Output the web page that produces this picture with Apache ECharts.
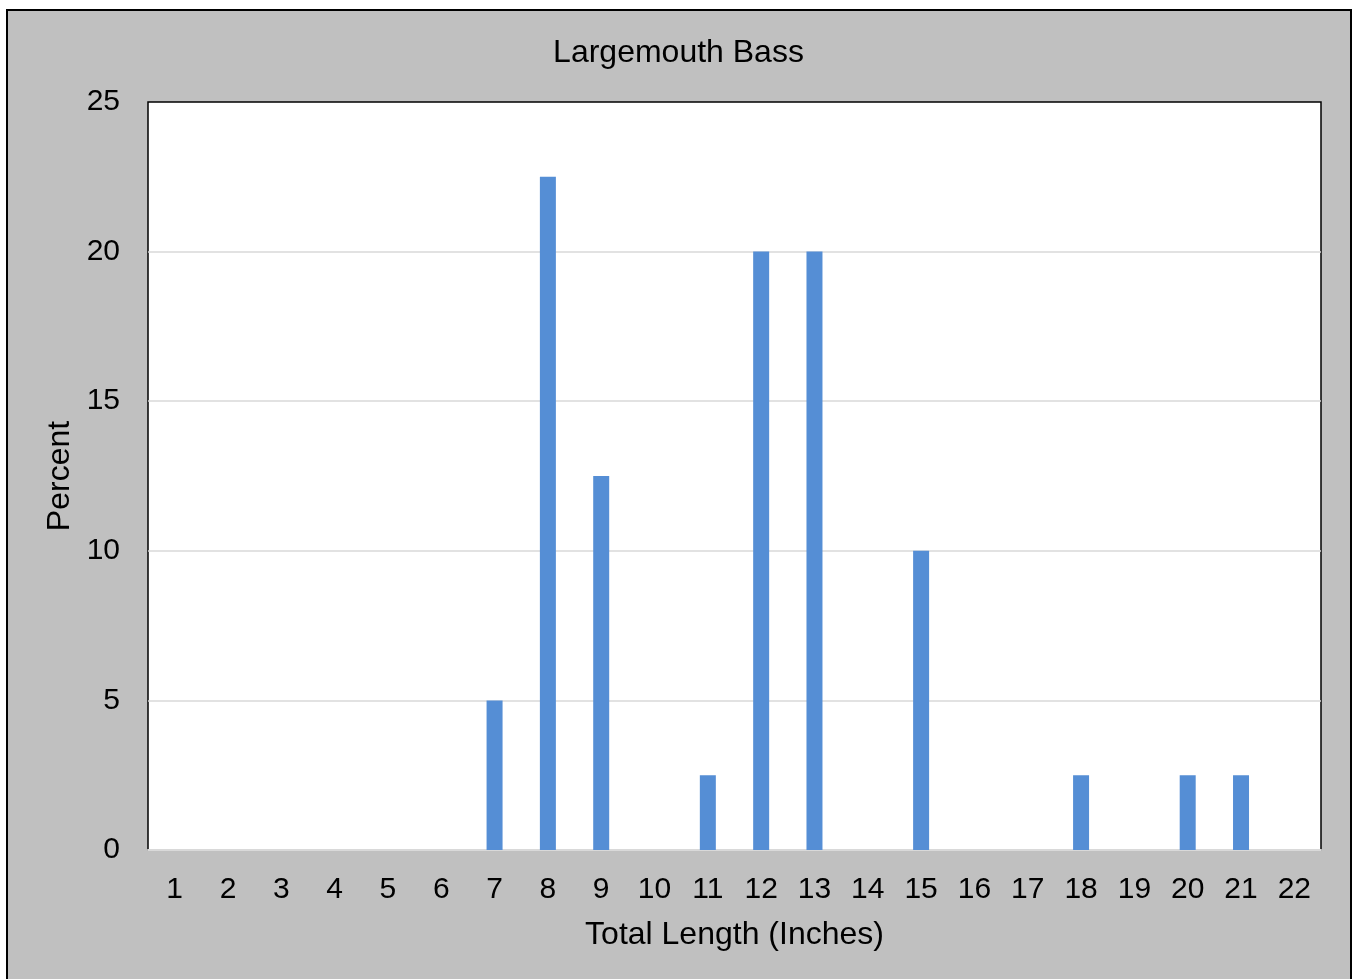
<!DOCTYPE html>
<html>
<head>
<meta charset="utf-8">
<script src="https://cdn.jsdelivr.net/npm/echarts@6/dist/echarts.min.js"></script>
<style>
  html, body { margin: 0; padding: 0; background: #fff; }
  #chart { width: 1357px; height: 979px; }
</style>
</head>
<body>
<div id="chart"></div>
<script>
var lengths = ['1','2','3','4','5','6','7','8','9','10','11','12','13','14','15','16','17','18','19','20','21','22'];
var percents = [0, 0, 0, 0, 0, 0, 5, 22.5, 12.5, 0, 2.5, 20, 20, 0, 10, 0, 0, 2.5, 0, 2.5, 2.5, 0];

var myChart = echarts.init(document.getElementById('chart'));
var font = '"Liberation Sans", Arial, sans-serif';

myChart.setOption({
    backgroundColor: '#fff',
    animation: false,
    graphic: [
        {
            type: 'rect',
            z: -10,
            shape: { x: 7, y: 10, width: 1344, height: 990 },
            style: { fill: '#c0c0c0', stroke: '#000', lineWidth: 2 }
        }
    ],
    title: {
        text: 'Largemouth Bass',
        left: 'center',
        top: 32,
        textStyle: { fontFamily: font, fontSize: 32, fontWeight: 'normal', color: '#000' }
    },
    grid: {
        left: 148,
        top: 102,
        right: 36,
        bottom: 129,
        show: true,
        backgroundColor: '#fff',
        borderColor: '#000',
        borderWidth: 1.5
    },
    xAxis: {
        type: 'category',
        data: lengths,
        name: 'Total Length (Inches)',
        nameLocation: 'middle',
        nameGap: 69,
        nameTextStyle: { fontFamily: font, fontSize: 32, color: '#000' },
        axisLine: { lineStyle: { color: '#d9d9d9', width: 2 } },
        axisTick: { show: false },
        axisLabel: { fontFamily: font, fontSize: 30, color: '#000', margin: 25 }
    },
    yAxis: {
        type: 'value',
        min: 0,
        max: 25,
        interval: 5,
        name: 'Percent',
        nameLocation: 'middle',
        nameGap: 72,
        nameTextStyle: { fontFamily: font, fontSize: 32, color: '#000' },
        axisLine: { show: false },
        axisTick: { show: false },
        axisLabel: { fontFamily: font, fontSize: 30, color: '#000', margin: 28 },
        splitLine: { showMaxLine: false, showMinLine: false, lineStyle: { color: '#d9d9d9', width: 1.5 } }
    },
    series: [
        {
            type: 'bar',
            data: percents,
            barWidth: '30%',
            itemStyle: { color: '#558ed5' }
        }
    ]
});
</script>
</body>
</html>
